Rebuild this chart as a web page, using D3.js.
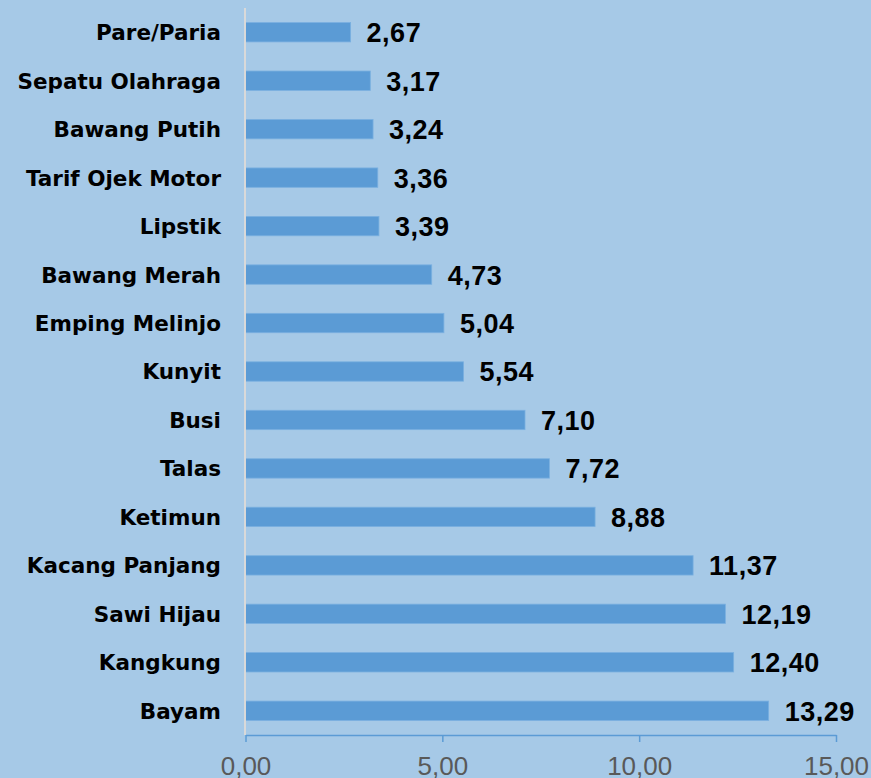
<!DOCTYPE html>
<html>
<head>
<meta charset="utf-8">
<script src="https://cdn.jsdelivr.net/npm/d3@7"></script>
<style>
  html, body { margin: 0; padding: 0; background: #a6c9e7; }
  svg { display: block; }
</style>
</head>
<body>
<svg id="svgCanvas" width="871" height="778"></svg>
<script>
// komoditas penyumbang, urut dari atas
var categories = ["Pare/Paria", "Sepatu Olahraga", "Bawang Putih", "Tarif Ojek Motor", "Lipstik",
  "Bawang Merah", "Emping Melinjo", "Kunyit", "Busi", "Talas", "Ketimun",
  "Kacang Panjang", "Sawi Hijau", "Kangkung", "Bayam"];
var values = [2.67, 3.17, 3.24, 3.36, 3.39, 4.73, 5.04, 5.54, 7.10, 7.72, 8.88, 11.37, 12.19, 12.40, 13.29];
var ticks = [0, 5, 10, 15];

var plotLeft = 245.5, plotRight = 836, plotTop = 8, plotBottom = 735;

var svg = d3.select("#svgCanvas");
var idLocale = d3.formatLocale({decimal: ",", thousands: ".", grouping: [3], currency: ["Rp", ""]});
var fmt = idLocale.format(".2f");

var x = d3.scaleLinear().domain([0, 15]).range([plotLeft, plotRight]);
var y = d3.scaleBand().domain(categories).range([plotTop, plotBottom]).paddingInner(0.6).paddingOuter(0.3);

var rows = categories.map(function(c, i) { return {name: c, value: values[i]}; });

// bars
svg.selectAll("rect.bar").data(rows).enter().append("rect")
  .attr("class", "bar")
  .attr("x", x(0))
  .attr("y", function(d) { return y(d.name); })
  .attr("width", function(d) { return x(d.value) - x(0); })
  .attr("height", y.bandwidth())
  .attr("fill", "#5b9bd5")
  .attr("stroke", "#7ab0e0")
  .attr("stroke-width", 0.8);

// vertical axis line
svg.append("line")
  .attr("x1", plotLeft - 0.5).attr("x2", plotLeft - 0.5)
  .attr("y1", plotTop).attr("y2", plotBottom)
  .attr("stroke", "#d9d9d9").attr("stroke-width", 2);

// category labels
svg.selectAll("text.cat").data(rows).enter().append("text")
  .attr("class", "cat")
  .attr("x", 221)
  .attr("y", function(d) { return y(d.name) + y.bandwidth() / 2; })
  .attr("dy", "0.37em")
  .attr("text-anchor", "end")
  .attr("font-family", "'DejaVu Sans', sans-serif")
  .attr("font-weight", "bold")
  .attr("font-size", 21.5)
  .attr("fill", "#000")
  .text(function(d) { return d.name; });

// value labels
svg.selectAll("text.val").data(rows).enter().append("text")
  .attr("class", "val")
  .attr("x", function(d) { return x(d.value) + 16; })
  .attr("y", function(d) { return y(d.name) + y.bandwidth() / 2; })
  .attr("dy", "0.37em")
  .attr("font-family", "'Liberation Sans', Arial, sans-serif")
  .attr("font-weight", "bold")
  .attr("font-size", 27)
  .attr("letter-spacing", 0.5)
  .attr("fill", "#000")
  .text(function(d) { return fmt(d.value); });

// x axis
var axis = d3.axisBottom(x).tickValues(ticks).tickSize(7).tickSizeOuter(0).tickFormat(fmt);
var g = svg.append("g").attr("transform", "translate(0," + plotBottom + ")").call(axis);
g.select(".domain").attr("stroke", "#5b9bd5").attr("stroke-width", 1.5);
g.selectAll(".tick line").attr("stroke", "#5b9bd5").attr("stroke-width", 1.5);
g.selectAll(".tick text")
  .attr("y", 22)
  .attr("font-family", "'Liberation Sans', Arial, sans-serif")
  .attr("font-size", 26)
  .attr("fill", "#595959");
</script>
</body>
</html>
